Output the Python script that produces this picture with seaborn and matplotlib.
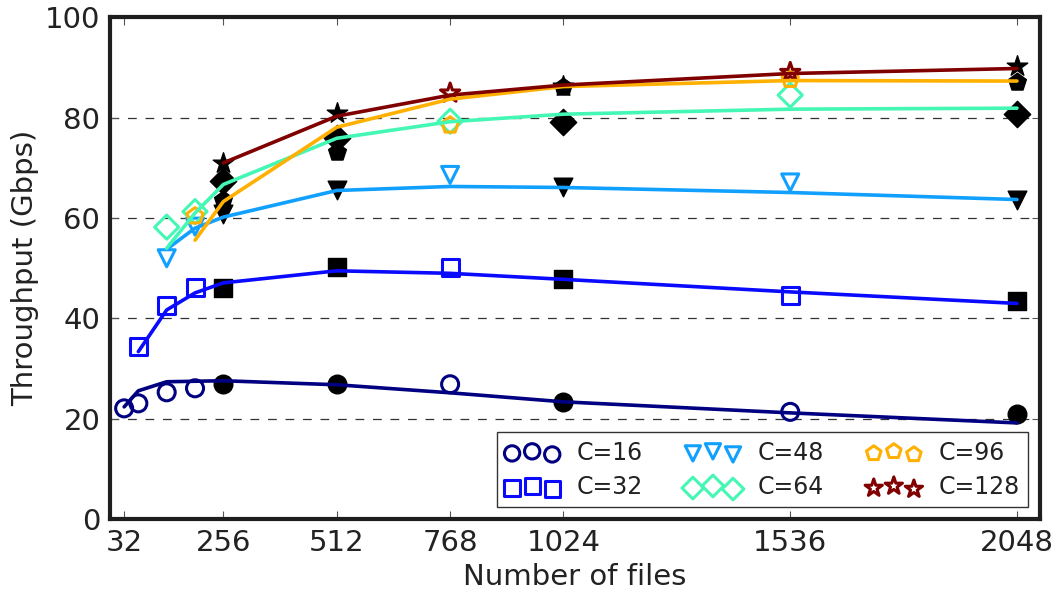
import matplotlib
matplotlib.use("Agg")
import matplotlib.pyplot as plt
import seaborn as sns
import numpy as np
import pandas as pd

# ---------------- data ----------------
series_labels = ["C=16", "C=32", "C=48", "C=64", "C=96", "C=128"]
series_colors = ["#000080", "#0a0aff", "#12a0ff", "#45f7b4", "#ffb000", "#800000"]
series_markers = ["o", "s", "v", "D", "p", "*"]

x_c16 = [32, 64, 128, 192, 256, 512, 768, 1024, 1536, 2048]
y_c16 = [22.1, 23.1, 25.3, 26.1, 27.0, 27.0, 26.9, 23.4, 21.4, 21.0]
fit_c16 = [22.4, 25.6, 27.4, 27.5, 27.6, 26.8, 25.2, 23.4, 21.2, 19.2]

x_c32 = [64, 128, 192, 256, 512, 768, 1024, 1536, 2048]
y_c32 = [34.4, 42.5, 46.1, 46.0, 50.3, 50.2, 47.8, 44.5, 43.4]
fit_c32 = [33.4, 41.7, 45.1, 47.1, 49.5, 49.0, 47.8, 45.3, 43.0]

x_c48 = [128, 192, 256, 512, 768, 1024, 1536, 2048]
y_c48 = [52.0, 58.3, 60.8, 65.5, 68.6, 66.1, 67.1, 63.7]
fit_c48 = [53.8, 58.0, 60.2, 65.5, 66.3, 66.1, 65.1, 63.7]

x_c64 = [128, 192, 256, 512, 768, 1024, 1536, 2048]
y_c64 = [58.2, 61.3, 67.3, 75.9, 79.3, 79.2, 84.5, 80.7]
fit_c64 = [54.0, 61.0, 66.7, 75.9, 79.2, 80.7, 81.7, 81.9]

x_c96 = [192, 256, 512, 768, 1024, 1536, 2048]
y_c96 = [60.4, 63.6, 73.2, 78.5, 86.2, 87.6, 87.1]
fit_c96 = [55.6, 63.3, 78.1, 83.7, 86.2, 87.4, 87.3]

x_c128 = [256, 512, 768, 1024, 1536, 2048]
y_c128 = [71.0, 81.0, 84.9, 86.3, 89.0, 90.2]
fit_c128 = [71.0, 80.3, 84.5, 86.5, 88.8, 89.8]

filled_x = [256, 512, 1024, 2048]   # drawn as solid black markers

x_ticks = [32, 256, 512, 768, 1024, 1536, 2048]
y_ticks = [0, 20, 40, 60, 80, 100]

all_x = [x_c16, x_c32, x_c48, x_c64, x_c96, x_c128]
all_y = [y_c16, y_c32, y_c48, y_c64, y_c96, y_c128]
all_fit = [fit_c16, fit_c32, fit_c48, fit_c64, fit_c96, fit_c128]

# ---------------- style ----------------
sns.set_theme(style="white")
plt.rcParams["font.family"] = ["DejaVu Sans"]
plt.rcParams["text.color"] = "#222222"
plt.rcParams["axes.labelcolor"] = "#222222"
plt.rcParams["xtick.color"] = "#222222"
plt.rcParams["ytick.color"] = "#222222"

fig = plt.figure(figsize=(10.6, 5.92), dpi=100)
ax = fig.add_axes([110 / 1060, 1 - 519.3 / 592, (1040 - 110) / 1060, (519.3 - 17.3) / 592])

for xs, ys, fit, lab, col, mk in zip(all_x, all_y, all_fit, series_labels,
                                     series_colors, series_markers):
    df = pd.DataFrame({"x": xs, "y": ys})
    hollow = df[~df["x"].isin(filled_x)]
    solid = df[df["x"].isin(filled_x)]
    size = 210 if mk == "*" else 150
    sns.scatterplot(data=hollow, x="x", y="y", marker=mk, s=size,
                    facecolor="none", edgecolor=col, linewidth=2.2,
                    label=lab, ax=ax, zorder=3)
    sns.scatterplot(data=solid, x="x", y="y", marker=mk, s=size + 30,
                    color="black", edgecolor="black", linewidth=1,
                    ax=ax, zorder=3)
    sns.lineplot(x=xs, y=fit, color=col, linewidth=2.6, ax=ax, zorder=4)

ax.set_xlim(0, 2100)
ax.set_ylim(0, 100)
ax.set_xticks(x_ticks)
ax.set_xticklabels([str(v) for v in x_ticks])
ax.set_yticks(y_ticks)
ax.tick_params(axis="both", which="major", direction="in", length=6, width=0.8,
               labelsize=21, top=True, right=True, bottom=True, left=True, pad=7)
ax.tick_params(axis="x", colors="#555555", labelcolor="#222222")
ax.tick_params(axis="y", colors="#555555", labelcolor="#222222")

ax.yaxis.grid(True, linestyle=(0, (7, 7)), color="#333333", linewidth=0.9)
ax.xaxis.grid(False)
ax.set_axisbelow(True)

for sp in ax.spines.values():
    sp.set_linewidth(3)
    sp.set_color("#1e1e1e")

ax.set_xlabel("Number of files", fontsize=21, labelpad=4)
ax.set_ylabel("Throughput (Gbps)", fontsize=21, labelpad=4)

leg = ax.legend(loc="lower right", ncol=3, scatterpoints=3, fontsize=17,
                frameon=True, fancybox=False, edgecolor="black",
                borderaxespad=0.5, handletextpad=0.75, columnspacing=1.8,
                handlelength=2.3, markerscale=0.9, borderpad=0.35,
                labelspacing=0.45)
leg.get_frame().set_linewidth(1.0)

fig.savefig("out.png", dpi=100)
